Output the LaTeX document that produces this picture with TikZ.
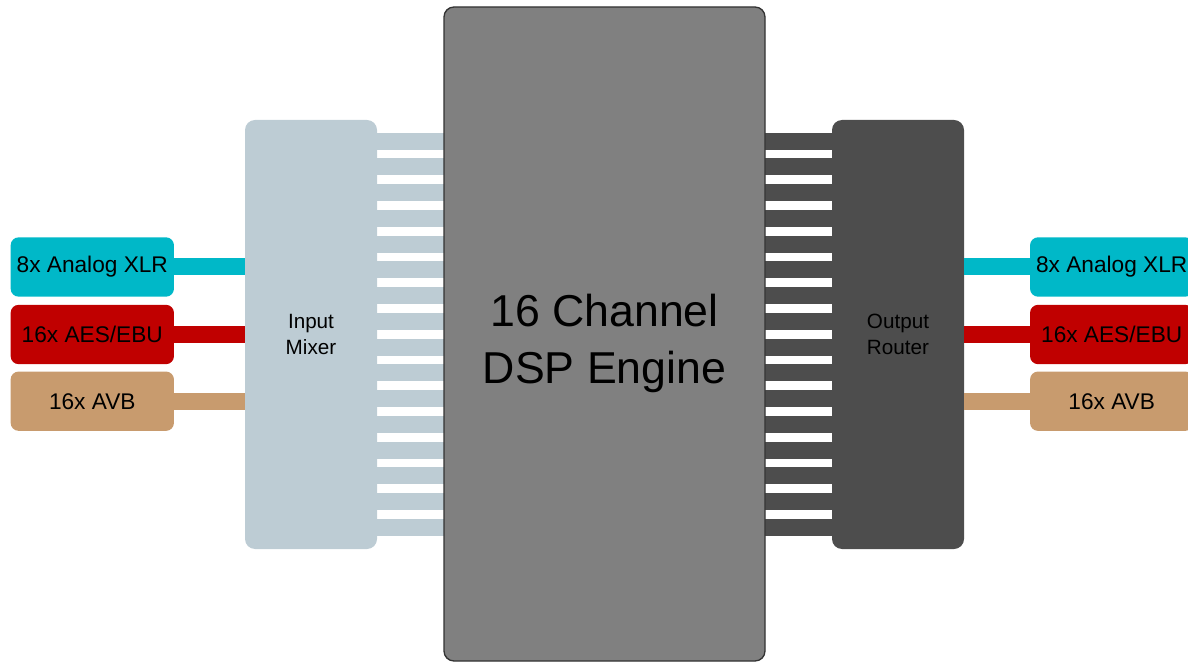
\documentclass[tikz,border=0pt]{standalone}
\usepackage{fontspec}
\setmainfont{Liberation Sans}
\usepackage{tikz}

\definecolor{xlrcyan}{RGB}{0,184,200}
\definecolor{aesred}{RGB}{192,0,0}
\definecolor{avbtan}{RGB}{200,155,110}
\definecolor{mixerblue}{RGB}{189,204,212}
\definecolor{routergray}{RGB}{77,77,77}
\definecolor{enginegray}{RGB}{128,128,128}
\definecolor{engineedge}{RGB}{51,51,51}

\tikzset{
  portbox/.style={rounded corners=6pt, inner sep=0pt, minimum width=122.5pt, minimum height=44.5pt, font=\fontsize{17}{21}\selectfont},
  portbar/.style={line width=12.75pt},
  stagebox/.style={rounded corners=7.5pt, inner sep=0pt, minimum width=99pt, minimum height=321.75pt, align=center, font=\fontsize{15.5}{20}\selectfont},
  inlane/.style={draw=mixerblue, line width=12.75pt},
  outlane/.style={draw=routergray, line width=12.75pt}
}

\begin{document}
\begin{tikzpicture}[x=0.75pt,y=0.75pt,yscale=-1,xscale=1]
\useasboundingbox (0,0) rectangle (1188,666);

% input ports
\node [portbox, fill=xlrcyan] (xlrin) at (92.3,267) {8x Analog XLR};
\node [portbox, fill=aesred] (aesin) at (92.3,334.5) {16x AES/EBU};
\node [portbox, fill=avbtan] (avbin) at (92.3,401.2) {16x AVB};

% output ports
\node [portbox, fill=xlrcyan] (xlrout) at (1111.7,267) {8x Analog XLR};
\node [portbox, fill=aesred] (aesout) at (1111.7,334.5) {16x AES/EBU};
\node [portbox, fill=avbtan] (avbout) at (1111.7,401.2) {16x AVB};

% mixer and router
\node [stagebox, fill=mixerblue] (mixer) at (311,334.5) {Input\\Mixer};
\node [stagebox, fill=routergray] (router) at (898,334.5) {Output\\Router};

% channel lanes
\foreach \i in {0,...,15} {
  \pgfmathsetmacro{\ly}{141.2+25.75*\i}
  \coordinate (lane\i) at (0,\ly);
  \draw [inlane] (mixer.east |- lane\i) -- (604.5,\ly);
  \draw [outlane] (604.5,\ly) -- (router.west |- lane\i);
}

% engine
\node [draw=engineedge, line width=1pt, fill=enginegray, rounded corners=7.5pt, inner sep=0pt,
  minimum width=240.75pt, minimum height=490.5pt] (engine) at (604.5,334) {};
\node [align=center, font=\fontsize{33.5}{42.5}\selectfont] (enginetext)
  at ([yshift=7pt]engine.center) {16 Channel\\DSP Engine};

% port connectors
\draw [portbar, xlrcyan] (xlrin.east) -- (mixer.west |- xlrin.east);
\draw [portbar, aesred] (aesin.east) -- (mixer.west |- aesin.east);
\draw [portbar, avbtan] (avbin.east) -- (mixer.west |- avbin.east);
\draw [portbar, xlrcyan] (router.east |- xlrout.west) -- (xlrout.west);
\draw [portbar, aesred] (router.east |- aesout.west) -- (aesout.west);
\draw [portbar, avbtan] (router.east |- avbout.west) -- (avbout.west);

\end{tikzpicture}
\end{document}
